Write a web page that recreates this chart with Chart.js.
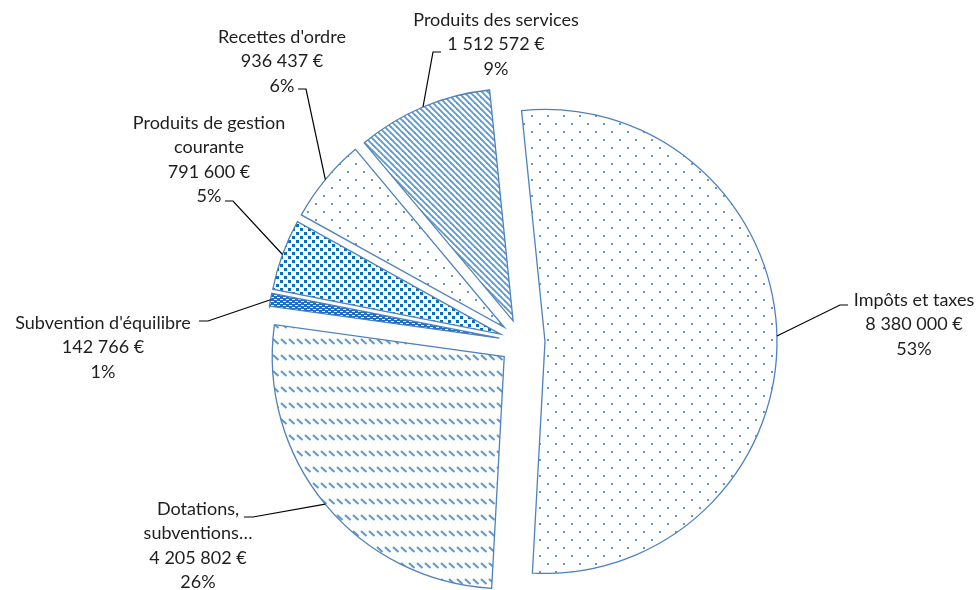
<!DOCTYPE html>
<html><head><meta charset="utf-8">
<script src="https://cdn.jsdelivr.net/npm/chart.js@4"></script>
<style>html,body{margin:0;padding:0;background:#fff;} canvas{display:block;}</style>
</head><body>
<canvas id="c" width="976" height="590"></canvas>
<script>
// ---- data ----
const categories = ["Impôts et taxes", "Dotations, subventions…", "Subvention d'équilibre", "Produits de gestion courante", "Recettes d'ordre", "Produits des services"];
const labelLines = [["Impôts et taxes"], ["Dotations,", "subventions…"], ["Subvention d'équilibre"], ["Produits de gestion", "courante"], ["Recettes d'ordre"], ["Produits des services"]];
const amounts = [8380000, 4205802, 142766, 791600, 936437, 1512572];
const shareLabels = ["53%", "26%", "1%", "5%", "6%", "9%"];

// ---- layout (label placement, not data) ----
const labelLayout = [
  {cx: 914, y: 300, elbow: [840, 305], end: [848, 305]},
  {cx: 198, y: 509, elbow: [253, 517], end: [244, 517]},
  {cx: 103, y: 323, elbow: [208, 321], end: [199, 321]},
  {cx: 209, y: 123, elbow: [233, 201], end: [225, 201]},
  {cx: 282, y: 37,  elbow: [306, 89],  end: [298, 89]},
  {cx: 496, y: 20,  elbow: [433, 52],  end: [441, 52]}
];
const EXPLODE = 23;
const LINE_H = 24.4;
const FONT = '18px Lato, "Open Sans", sans-serif';

const mainCtx = document.getElementById('c').getContext('2d');
function makePattern(w, h, draw) {
  const c = document.createElement('canvas');
  c.width = w; c.height = h;
  const g = c.getContext('2d');
  draw(g, w, h);
  return mainCtx.createPattern(c, 'repeat');
}
const LIGHT = '#5b9bd5', DARK = '#0070c0';
const pDots = makePattern(16, 16, g => {
  g.fillStyle = LIGHT;
  g.fillRect(3, 3, 2, 2); g.fillRect(11, 11, 2, 2);
});
const pDashes = makePattern(8, 16, g => {
  g.strokeStyle = LIGHT; g.lineWidth = 2.2; g.lineCap = 'butt';
  g.beginPath(); g.moveTo(1, 3); g.lineTo(6.5, 8); g.stroke();
});
const pSubv = makePattern(6, 4, g => {
  g.fillStyle = '#1f6fbf'; g.fillRect(0, 0, 6, 4);
  g.fillStyle = '#ffffff';
  g.fillRect(1, 1, 3, 1);
  g.fillRect(4, 3, 2, 1); g.fillRect(0, 3, 1, 1);
});
const pDense = makePattern(8, 8, g => {
  g.fillStyle = DARK;
  g.fillRect(0, 0, 3, 3);
  g.fillRect(4, 4, 3, 3);
});
const pStripes = makePattern(6, 6, g => {
  g.strokeStyle = LIGHT; g.lineWidth = 1.9;
  for (let k = -1; k <= 1; k++) { g.beginPath(); g.moveTo(k * 6 - 1, -1); g.lineTo(k * 6 + 7, 7); g.stroke(); }
});
const fills = [pDots, pDashes, pSubv, pDense, pDots, pStripes];

function fmtEuro(v) { return String(v).replace(/\B(?=(\d{3})+(?!\d))/g, ' ') + ' €'; }

// Explode every slice by the same distance along its mid-angle
const explodePlugin = {
  id: 'explode',
  afterDatasetUpdate(chart, args) {
    const meta = chart.getDatasetMeta(args.index);
    meta.data.forEach(arc => {
      const mid = (arc.startAngle + arc.endAngle) / 2;
      arc.x += Math.cos(mid) * EXPLODE;
      arc.y += Math.sin(mid) * EXPLODE;
    });
  }
};

const labelPlugin = {
  id: 'outerLabels',
  afterDatasetsDraw(chart) {
    const ctx = chart.ctx;
    const meta = chart.getDatasetMeta(0);
    ctx.save();
    ctx.font = FONT;
    ctx.fillStyle = '#1e1e1e';
    ctx.textAlign = 'center';
    ctx.textBaseline = 'middle';
    ctx.strokeStyle = '#000';
    ctx.lineWidth = 1.2;
    meta.data.forEach((arc, i) => {
      const mid = (arc.startAngle + arc.endAngle) / 2;
      const sx = arc.x + Math.cos(mid) * arc.outerRadius;
      const sy = arc.y + Math.sin(mid) * arc.outerRadius;
      const L = labelLayout[i];
      ctx.beginPath();
      ctx.moveTo(sx, sy);
      ctx.lineTo(L.elbow[0], L.elbow[1]);
      ctx.lineTo(L.end[0], L.end[1]);
      ctx.stroke();
      const lines = labelLines[i].concat([fmtEuro(amounts[i]), shareLabels[i]]);
      lines.forEach((t, k) => ctx.fillText(t, L.cx, L.y + k * LINE_H));
    });
    ctx.restore();
  }
};

new Chart(mainCtx, {
  type: 'pie',
  data: {
    labels: categories,
    datasets: [{
      data: amounts,
      backgroundColor: fills,
      borderColor: '#4f81bd',
      borderWidth: 1.3,
      borderJoinStyle: 'miter',
      offset: 0
    }]
  },
  options: {
    responsive: false,
    animation: false,
    events: [],
    rotation: -5.8,
    radius: 232,
    layout: {padding: {left: 68, top: 94, right: 0, bottom: 0}},
    plugins: {legend: {display: false}, tooltip: {enabled: false}}
  },
  plugins: [explodePlugin, labelPlugin]
});
</script>
</body></html>
